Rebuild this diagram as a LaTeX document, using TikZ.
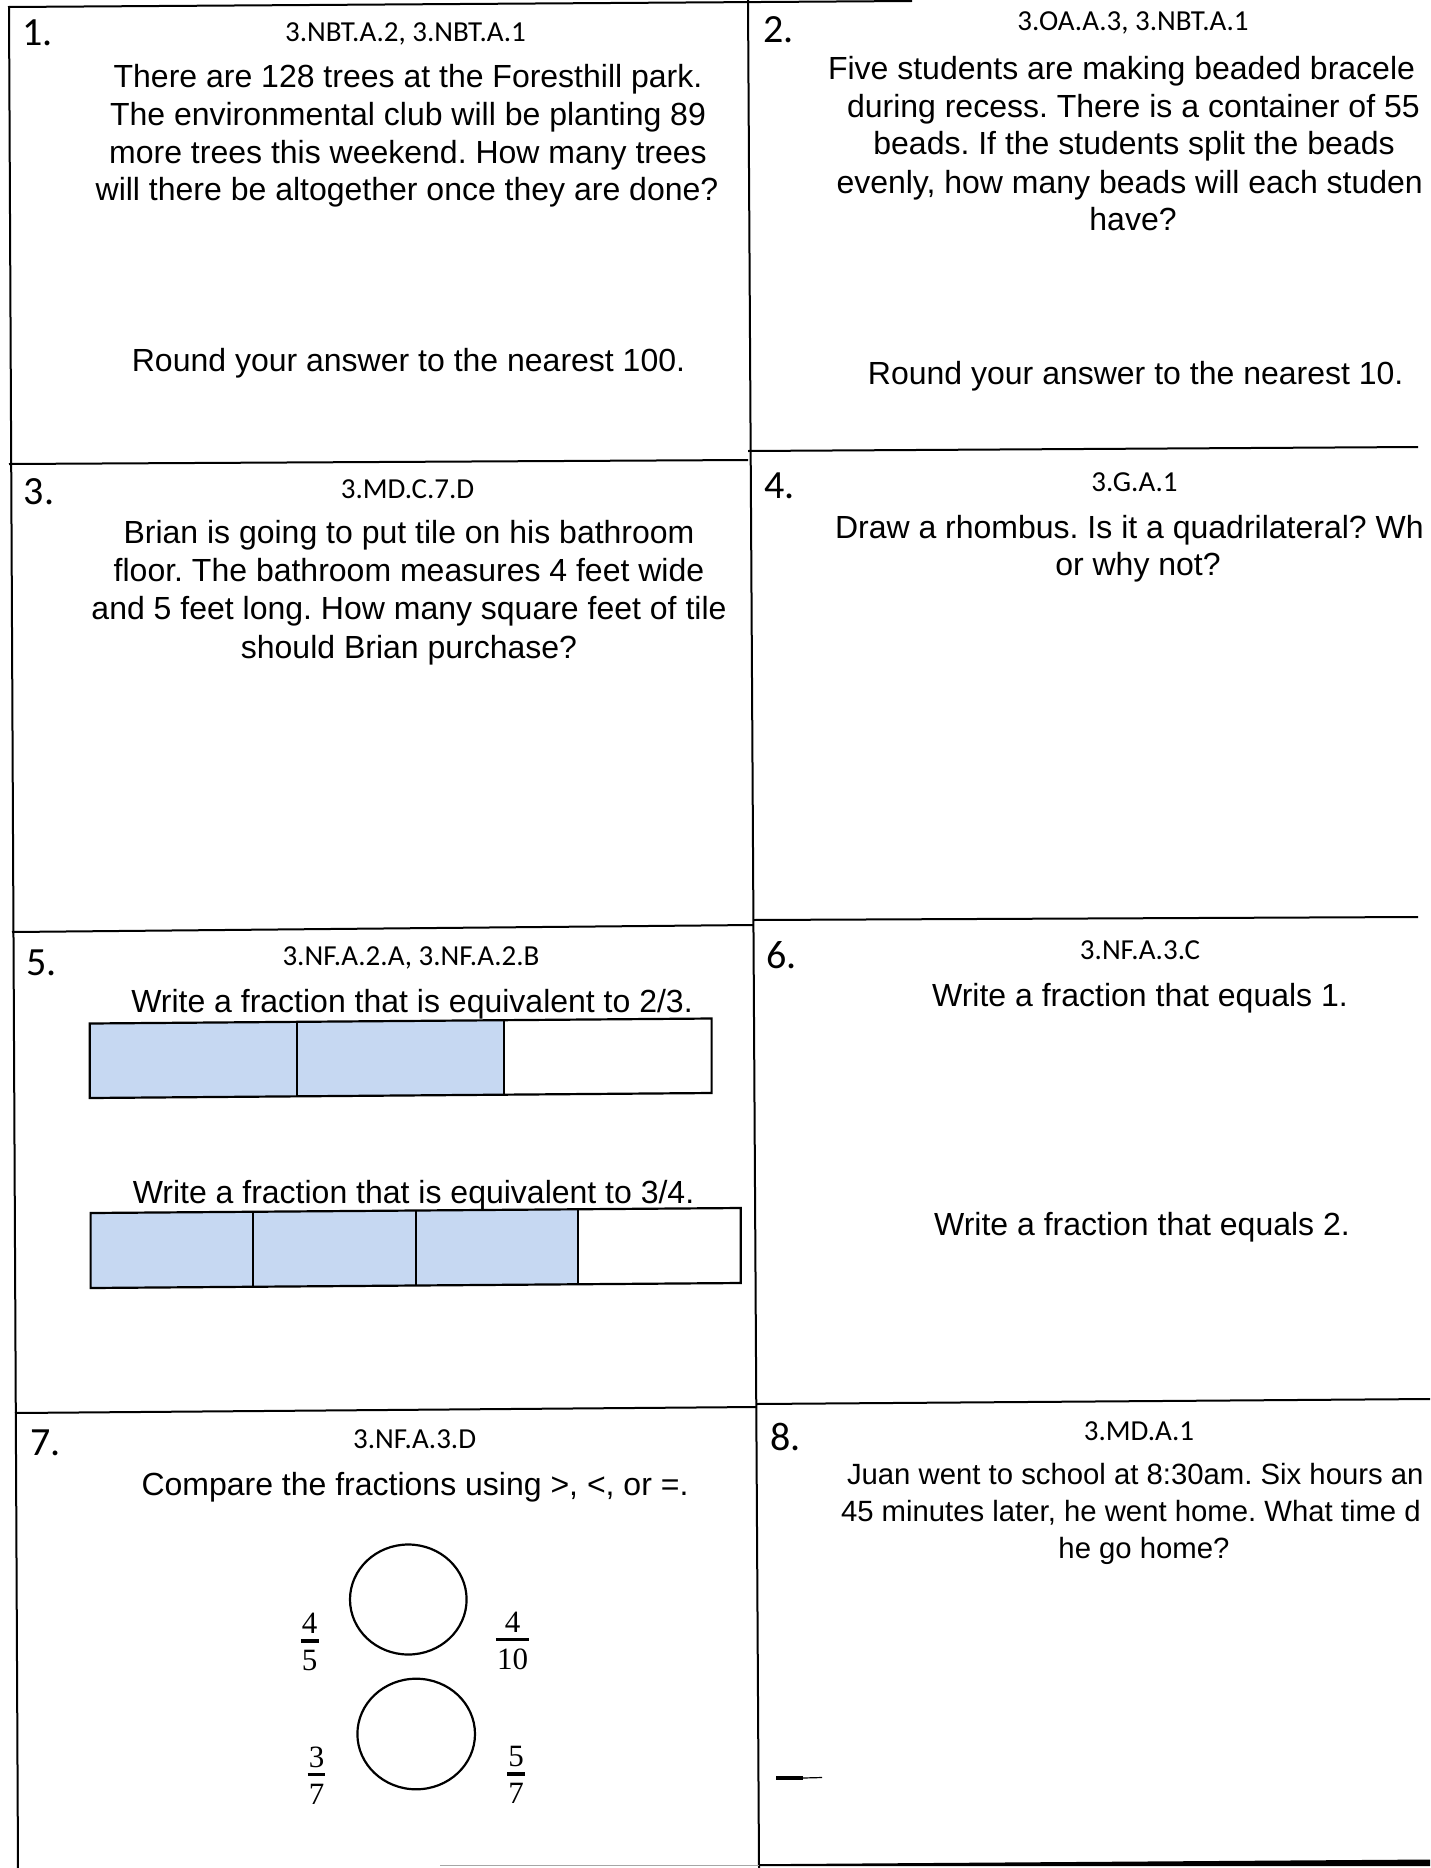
\documentclass[tikz,border=0pt]{standalone}
\usepackage{fontspec}
\setmainfont{Liberation Sans}
\newfontfamily\codefont{Carlito}
\newfontfamily\seriffont{Liberation Serif}
\usetikzlibrary{calc}
\definecolor{barblue}{RGB}{198,216,242}
\frenchspacing
\begin{document}
\begin{tikzpicture}[x=0.5pt,y=-0.5pt,
  every node/.style={inner sep=0pt, outer sep=0pt},
  qtext/.style={anchor=base, font=\fontsize{16}{19}\selectfont},
  qtextl/.style={anchor=base west, font=\fontsize{16}{19}\selectfont},
  stextl/.style={anchor=base west, font=\fontsize{14.65}{17}\selectfont},
  stext/.style={anchor=base, font=\fontsize{14.65}{17}\selectfont},
  code/.style={anchor=base, font=\codefont\fontsize{14.5}{17}\selectfont},
  qnum/.style={anchor=base west, font=\codefont\fontsize{20}{24}\selectfont},
  gridline/.style={line width=1pt, black},
  barbox/.style={draw=black, line width=1.1pt, line join=miter},
  ring/.style={draw=black, line width=1.1pt},
  fracdigit/.style={anchor=base, inner xsep=0.6pt, font=\seriffont\fontsize{15.5}{18}\selectfont},
  fracbar/.style={line width=1.7pt, black}
]
\useasboundingbox (0,0) rectangle (1430,1868);
\clip (0,0) rectangle (1430,1868);
\fill[white] (0,0) rectangle (1430,1868);

% ---------- grid lines ----------
\coordinate (tl) at (9,7);
\coordinate (tr) at (912,1);
\coordinate (lb) at (18,1868);
\coordinate (mt) at (748,0);
\coordinate (mb) at (759,1868);
\draw[gridline] (tr) -- (tl) -- (lb);
\draw[gridline] (mt) -- (mb);
\draw[gridline] (9,464) -- (748,460);
\draw[gridline] (748,451) -- (1418,447);
\draw[gridline] (12,932) -- (753,925);
\draw[gridline] (753,920) -- (1418,917);
\draw[gridline] (15,1413) -- (756,1407);
\draw[gridline] (756,1404) -- (1430,1399);
\draw[line width=0.4pt, black!35] (440,1865) -- (759,1865);
\fill[black] (759,1864.2) -- (1430,1859.5) -- (1430,1866) -- (759,1866) -- cycle;

% ---------- cell 1 ----------
\node[qnum] (n1) at (22,46) {1.};
\node[code] (c1) at (405.5,41.5) {3.NBT.A.2, 3.NBT.A.1};
\node[qtext] (t1a) at (408,88) {There are 128 trees at the Foresthill park.};
\node[qtext] (t1b) at (408,125.5) {The environmental club will be planting 89};
\node[qtext] (t1c) at (408,163) {more trees this weekend. How many trees};
\node[qtext] (t1d) at (407,200.5) {will there be altogether once they are done?};
\node[qtext] (t1e) at (408.5,371.5) {Round your answer to the nearest 100.};

% ---------- cell 2 ----------
\node[qnum] (n2) at (763,43) {2.};
\node[code] (c2) at (1133,31) {3.OA.A.3, 3.NBT.A.1};
\node[qtextl] (t2a) at (828,79.5) {Five students are making beaded bracele};
\node[qtextl] (t2b) at (847,117.5) {during recess. There is a container of 55};
\node[qtext] (t2c) at (1134,154.5) {beads. If the students split the beads};
\node[qtextl] (t2d) at (836.5,193.8) {evenly, how many beads will each studen};
\node[qtext] (t2e) at (1133,230.8) {have?};
\node[qtext] (t2f) at (1135.7,384.5) {Round your answer to the nearest 10.};

% ---------- cell 3 ----------
\node[qnum] (n3) at (24,504) {3.};
\node[code] (c3) at (407.5,498) {3.MD.C.7.D};
\node[qtext] (t3a) at (409,543) {Brian is going to put tile on his bathroom};
\node[qtext] (t3b) at (409,581) {floor. The bathroom measures 4 feet wide};
\node[qtext] (t3c) at (409,619) {and 5 feet long. How many square feet of tile};
\node[qtext] (t3d) at (409,658.5) {should Brian purchase?};

% ---------- cell 4 ----------
\node[qnum] (n4) at (764,498) {4.};
\node[code] (c4) at (1134.5,491) {3.G.A.1};
\node[qtextl] (t4a) at (835,538) {Draw a rhombus. Is it a quadrilateral? Wh};
\node[qtext] (t4b) at (1138,575) {or why not?};

% ---------- cell 5 ----------
\node[qnum] (n5) at (26,975) {5.};
\node[code] (c5) at (411,965) {3.NF.A.2.A, 3.NF.A.2.B};
\node[qtext] (t5a) at (412,1012.5) {Write a fraction that is equivalent to 2/3.};
\node[qtext] (t5b) at (413.5,1203) {Write a fraction that is equivalent to 3/4.};

% bar 1 (thirds)
\coordinate (atl) at (89.7,1023.5);
\coordinate (atr) at (711.6,1018.5);
\coordinate (abr) at (711.6,1093);
\coordinate (abl) at (89.7,1098);
\fill[barblue] (atl) -- ($(atl)!2/3!(atr)$) -- ($(abl)!2/3!(abr)$) -- (abl) -- cycle;
\draw[barbox] (atl) -- (atr) -- (abr) -- (abl) -- cycle;
\draw[barbox] ($(atl)!1/3!(atr)$) -- ($(abl)!1/3!(abr)$);
\draw[barbox] ($(atl)!2/3!(atr)$) -- ($(abl)!2/3!(abr)$);

% bar 2 (quarters)
\coordinate (btl) at (90.6,1213);
\coordinate (btr) at (740.7,1208);
\coordinate (bbr) at (740.7,1283);
\coordinate (bbl) at (90.6,1288);
\fill[barblue] (btl) -- ($(btl)!3/4!(btr)$) -- ($(bbl)!3/4!(bbr)$) -- (bbl) -- cycle;
\draw[barbox] (btl) -- (btr) -- (bbr) -- (bbl) -- cycle;
\draw[barbox] ($(btl)!1/4!(btr)$) -- ($(bbl)!1/4!(bbr)$);
\draw[barbox] ($(btl)!2/4!(btr)$) -- ($(bbl)!2/4!(bbr)$);
\draw[barbox] ($(btl)!3/4!(btr)$) -- ($(bbl)!3/4!(bbr)$);

% ---------- cell 6 ----------
\node[qnum] (n6) at (766,968) {6.};
\node[code] (c6) at (1140,959) {3.NF.A.3.C};
\node[qtext] (t6a) at (1140,1006.5) {Write a fraction that equals 1.};
\node[qtext] (t6b) at (1142,1235.5) {Write a fraction that equals 2.};

% ---------- cell 7 ----------
\node[qnum] (n7) at (30,1455) {7.};
\node[code] (c7) at (414.7,1448) {3.NF.A.3.D};
\node[qtext] (t7a) at (415,1495) {Compare the fractions using >, <, or =.};
\draw[ring] (408.3,1599.5) ellipse [x radius=58.3, y radius=55];
\draw[ring] (416.2,1734) ellipse [x radius=58.8, y radius=55.3];

\newcommand{\fracat}[5]{%
  \coordinate (#1b) at (#2,#3);
  \node[fracdigit] (#1n) at (#2,#3-7.6) {#4};
  \node[fracdigit] (#1d) at (#2,#3+29.8) {#5};
  \draw[fracbar] (#1d.west |- #1b) -- (#1d.east |- #1b);
}
\fracat{fa}{309.7}{1641}{4}{5}
\fracat{fb}{512.5}{1639.7}{4}{10}
\fracat{fc}{316.5}{1774.7}{3}{7}
\fracat{fd}{516}{1774}{5}{7}

% ---------- cell 8 ----------
\node[qnum] (n8) at (770,1450) {8.};
\node[code] (c8) at (1139,1440.5) {3.MD.A.1};
\node[stextl] (t8a) at (847,1484.5) {Juan went to school at 8:30am. Six hours an};
\node[stextl] (t8b) at (841,1521.5) {45 minutes later, he went home. What time d};
\node[stext] (t8c) at (1144,1558.5) {he go home?};
\draw[line width=2pt] (776,1778) -- (803,1778);
\draw[line width=0.6pt] (803,1778) -- (822,1777.5);
\end{tikzpicture}
\end{document}
